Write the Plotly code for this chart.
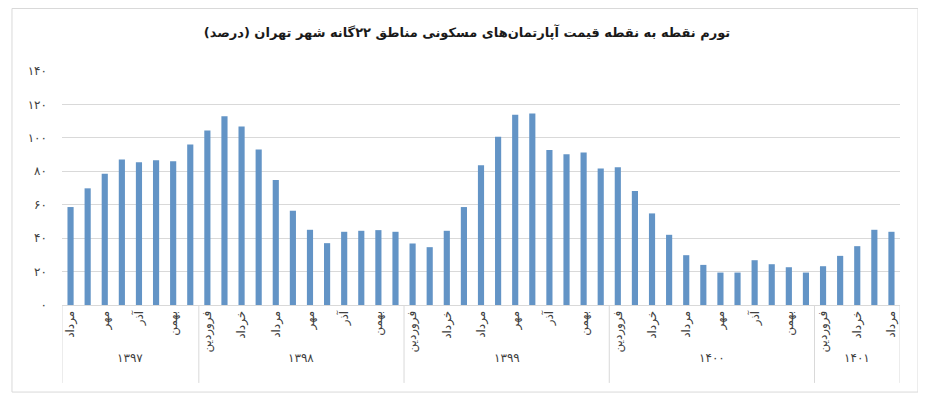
import plotly.graph_objects as go

# month names (Persian calendar) and which ones get a tick label
months = ["فروردین", "اردیبهشت", "خرداد", "تیر", "مرداد", "شهریور",
          "مهر", "آبان", "آذر", "دی", "بهمن", "اسفند"]
shown_months = ["فروردین", "خرداد", "مرداد", "مهر", "آذر", "بهمن"]

years = ["۱۳۹۷", "۱۳۹۸", "۱۳۹۹", "۱۴۰۰", "۱۴۰۱"]
first_month = [5, 1, 1, 1, 1]
last_month = [12, 12, 12, 12, 5]

# point-to-point inflation, percent
inflation = [
    58.6, 69.8, 78.6, 87.0, 85.4, 86.6, 86.0, 96.0,
    104.4, 113.0, 106.8, 93.0, 74.8, 56.4, 45.0, 37.0, 43.8, 44.4, 44.8, 43.8,
    36.8, 34.6, 44.4, 58.6, 83.6, 100.6, 113.8, 114.6, 92.8, 90.2, 91.2, 81.6,
    82.4, 68.2, 54.8, 42.0, 29.8, 24.0, 19.4, 19.4, 26.8, 24.4, 22.6, 19.4,
    23.2, 29.4, 35.2, 45.0, 43.8,
]

y_ticks = [0, 20, 40, 60, 80, 100, 120, 140]
fa_digits = str.maketrans("0123456789", "۰۱۲۳۴۵۶۷۸۹")
y_labels = [str(v).translate(fa_digits) for v in y_ticks]

# bar positions, month ticks, year groups
idx = list(range(len(inflation)))
tick_pos, tick_txt, bounds = [], [], [-0.5]
i = 0
for yr, m0, m1 in zip(years, first_month, last_month):
    for m in range(m0, m1 + 1):
        if months[m - 1] in shown_months:
            tick_pos.append(i)
            tick_txt.append(months[m - 1])
        i += 1
    bounds.append(i - 0.5)

fig = go.Figure(go.Bar(
    x=idx,
    y=inflation,
    marker=dict(color="#6394C6", line=dict(width=0)),
))

# page body adds an 8px offset, so the figure is a bit smaller than the window
fig.update_layout(
    width=918, height=401,
    margin=dict(l=54, r=26, t=63, b=104),
    paper_bgcolor="white", plot_bgcolor="white",
    bargap=0.64,
    showlegend=False,
    font=dict(family="DejaVu Sans", size=11, color="#404040"),
    title=dict(
        text="<b>تورم نقطه به نقطه قیمت آپارتمان‌های مسکونی مناطق ۲۲گانه شهر تهران (درصد)</b>",
        x=0.5, xanchor="center", y=0.938, yanchor="middle",
        font=dict(family="DejaVu Sans", size=13, color="#1a1a1a"),
    ),
)

fig.update_yaxes(
    range=[0, 140], tickvals=y_ticks, ticktext=y_labels,
    showgrid=True, gridcolor="#D9D9D9", gridwidth=1,
    zeroline=False, showline=False, ticks="",
    ticklabelstandoff=14,
    tickfont=dict(size=12, color="#404040"),
)

fig.update_xaxes(
    range=[-0.5, len(inflation) - 0.5],
    tickvals=tick_pos, ticktext=tick_txt,
    tickangle=-90,
    showgrid=False, zeroline=False,
    showline=True, linecolor="#D9D9D9",
    ticks="", tickfont=dict(size=12, color="#404040"),
)

# year group dividers and labels under the month ticks
for b in bounds:
    fig.add_shape(type="line", xref="x", yref="paper",
                  x0=b, x1=b, y0=-0.333, y1=0,
                  line=dict(color="#D9D9D9", width=1))
for yr, a, b in zip(years, bounds[:-1], bounds[1:]):
    fig.add_annotation(x=(a + b) / 2, y=-0.226, xref="x", yref="paper",
                       text=yr, showarrow=False, yanchor="middle",
                       font=dict(size=12, color="#404040"))

# light outer frame of the chart
fig.add_shape(type="rect", xref="paper", yref="paper",
              x0=-0.0597, x1=1.0215, y0=-0.372, y1=1.267,
              line=dict(color="#D9D9D9", width=1), layer="below")

fig.write_html("out.html")
